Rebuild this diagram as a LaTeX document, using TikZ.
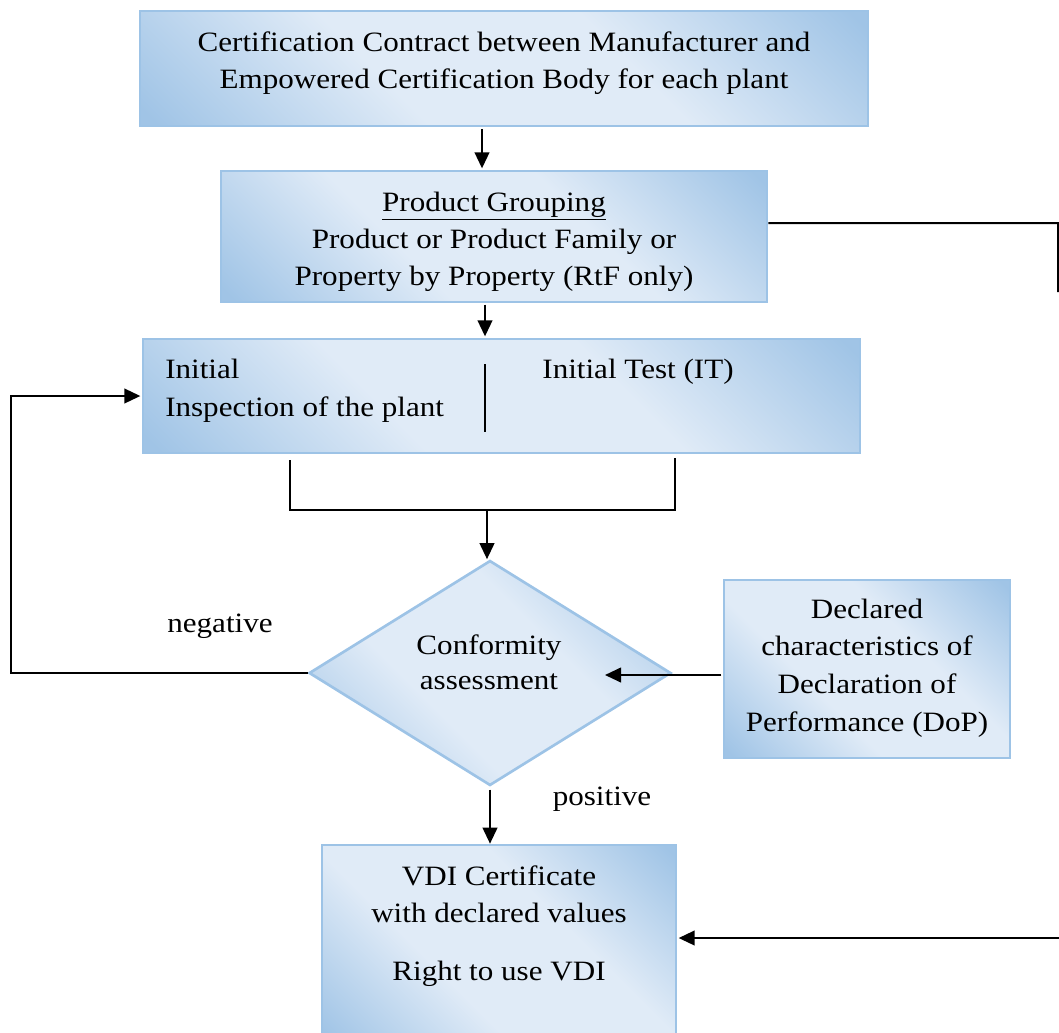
\documentclass[tikz,border=0pt]{standalone}
\usepackage{fontspec}
\setmainfont{Liberation Serif}[FakeStretch=1.11]
\usetikzlibrary{arrows.meta,shapes.geometric,fit}
\definecolor{bdark}{RGB}{160,196,230}
\definecolor{blight}{RGB}{224,235,247}
\definecolor{bline}{RGB}{157,195,230}
\pgfdeclarehorizontalshading{boxsh}{100bp}{color(0bp)=(bdark); color(16bp)=(bdark); color(39bp)=(blight); color(61bp)=(blight); color(84bp)=(bdark); color(100bp)=(bdark)}
\tikzset{
  box/.style={draw=bline, line width=2pt, shading=boxsh, shading angle=45, inner sep=0pt},
  txt/.style={anchor=base, inner sep=0pt, font=\fontsize{21}{25}\selectfont},
  arr/.style={line width=1.5pt, -{Triangle[length=12pt,width=11pt]}},
  ln/.style={line width=1.5pt}
}
\begin{document}
\begin{tikzpicture}[x=0.75pt,y=-0.75pt]
\useasboundingbox (0,0) rectangle (1059,1032);
\clip (0,0) rectangle (1059,1032);
% boxes
\node[box, fit={(140,11) (868,126)}] (b1) {};
\node[box, fit={(221,171) (767,302)}] (b2) {};
\node[box, fit={(143,339) (860,453)}] (b3) {};
\node[box, fit={(724,580) (1010,758)}] (dop) {};
\node[box, fit={(322,845) (676,1045)}] (vdi) {};
\node[box, shape=diamond, minimum width=271.5pt, minimum height=168.75pt] (dia) at (490,673) {};
% texts
\node[txt] (t1a) at (504,51) {Certification Contract between Manufacturer and};
\node[txt] (t1b) at (504,88) {Empowered Certification Body for each plant};
\node[txt] (t2a) at (494,211) {\underline{Product Grouping}};
\node[txt] (t2b) at (494,248) {Product or Product Family or};
\node[txt] (t2c) at (494,285) {Property by Property (RtF only)};
\node[txt, anchor=base west] (t3a) at (165,378) {Initial};
\node[txt, anchor=base west] (t3b) at (165,416) {Inspection of the plant};
\node[txt] (t3c) at (638,378) {Initial Test (IT)};
\node[txt] (t4a) at (489,654) {Conformity};
\node[txt] (t4b) at (489,689) {assessment};
\node[txt] (t5a) at (867,618) {Declared};
\node[txt] (t5b) at (867,655) {characteristics of};
\node[txt] (t5c) at (867,693) {Declaration of};
\node[txt] (t5d) at (867,731) {Performance (DoP)};
\node[txt] (t6a) at (499,885) {VDI Certificate};
\node[txt] (t6b) at (499,922) {with declared values};
\node[txt] (t6c) at (499,980) {Right to use VDI};
\node[txt] (neg) at (220,632) {negative};
\node[txt] (pos) at (602,805) {positive};
% divider in b3
\draw[ln] (485,364) -- (485,432);
% connectors
\draw[arr] ([xshift=-16.5pt,yshift=-1.5pt]b1.south) -- ([xshift=-16.5pt,yshift=1pt]b1.south |- b2.north);
\draw[arr] ([xshift=-6.75pt,yshift=-1pt]b2.south) -- ([xshift=-6.75pt,yshift=1pt]b2.south |- b3.north);
\coordinate (bl) at (290,460);
\coordinate (br) at (675,458);
\coordinate (j) at (487,510);
\draw[ln] (bl) -- (bl |- j) -- (br |- j) -- (br);
\draw[arr] (j) -- (j |- dia.north);
\coordinate (din) at (605,675);
\draw[arr] ([yshift=-4.5pt,xshift=-1pt]dop.west) -- (din);
\coordinate (lb) at (11,673);
\coordinate (lt) at (11,396);
\draw[arr] (dia.west) -- (lb) -- (lt) -- ([xshift=-1pt]lt -| b3.west);
\draw[arr] ([yshift=-2pt]dia.south) -- (dia.south |- vdi.north);
\coordinate (rt) at (1058,223);
\coordinate (rb) at (1058,292);
\draw[ln] ([yshift=10pt]b2.east) -- (rt) -- (rb);
\coordinate (rv) at (1060,938);
\draw[arr] (rv) -- ([xshift=1pt]vdi.east |- rv);
\end{tikzpicture}
\end{document}
